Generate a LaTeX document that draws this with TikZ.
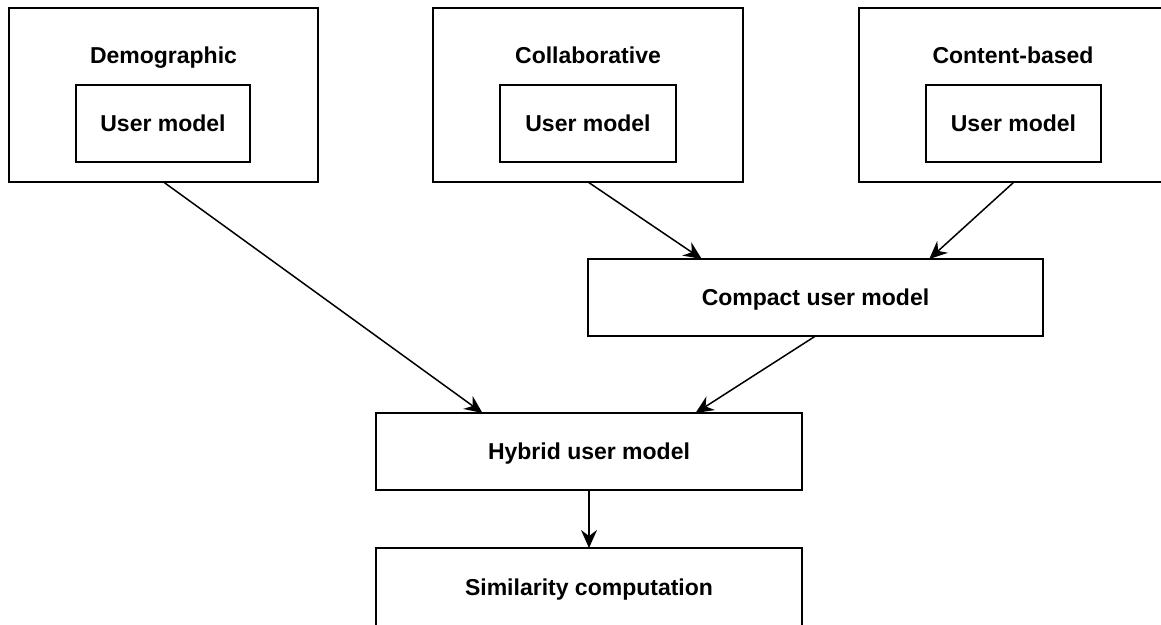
\documentclass[tikz,border=0pt]{standalone}
\usepackage{fontspec}
\setmainfont{Liberation Sans}
\usetikzlibrary{arrows.meta,calc}
\tikzset{
  box/.style={draw=black, line width=1.6pt, fill=white, inner sep=0pt, outer sep=0pt},
  lbl/.style={font=\fontsize{23}{27}\selectfont\bfseries, inner sep=0pt, text height=16.5pt, text depth=0.5pt},
  conn/.style={draw=black, line width=1.5pt, -{Stealth[length=18pt,width=16pt,inset=6pt]}}
}
\begin{document}
\begin{tikzpicture}[x=1pt,y=-1pt]
\useasboundingbox (0,0) rectangle (1161,624);
\clip (0,0) rectangle (1161,624);
% outer boxes
\node[box, minimum width=309pt, minimum height=174pt] (demo) at (163.5,95) {};
\node[box, minimum width=310pt, minimum height=174pt] (collab) at (588,95) {};
\node[box, minimum width=310pt, minimum height=174pt] (content) at (1014,95) {};
% titles
\node[lbl] (demot) at (163.5,55) {Demographic};
\node[lbl] (collabt) at (588,55) {Collaborative};
\node[lbl] (contentt) at (1013,55) {Content-based};
% inner boxes
\node[box, minimum width=174pt, minimum height=77pt, lbl] (demoum) at (163,123.5) {User model};
\node[box, minimum width=176pt, minimum height=77pt, lbl] (collabum) at (588,123.5) {User model};
\node[box, minimum width=175pt, minimum height=77pt, lbl] (contentum) at (1013.5,123.5) {User model};
% lower boxes
\node[box, minimum width=455pt, minimum height=77pt, lbl] (compact) at (815.5,297.5) {Compact user model};
\node[box, minimum width=426pt, minimum height=77pt, lbl] (hybrid) at (589,451.5) {Hybrid user model};
\node[box, minimum width=426pt, minimum height=84pt, lbl] (sim) at (589,590) {\raisebox{3pt}{Similarity computation}};
% connectors
\draw[conn] (collab.south) -- ($(compact.north west)!0.25!(compact.north east)$);
\draw[conn] (content.south) -- ($(compact.north west)!0.75!(compact.north east)$);
\draw[conn] (demo.south) -- ($(hybrid.north west)!0.25!(hybrid.north east)$);
\draw[conn] (compact.south) -- ($(hybrid.north west)!0.75!(hybrid.north east)$);
\draw[conn] (hybrid.south) -- (sim.north);
\end{tikzpicture}
\end{document}
